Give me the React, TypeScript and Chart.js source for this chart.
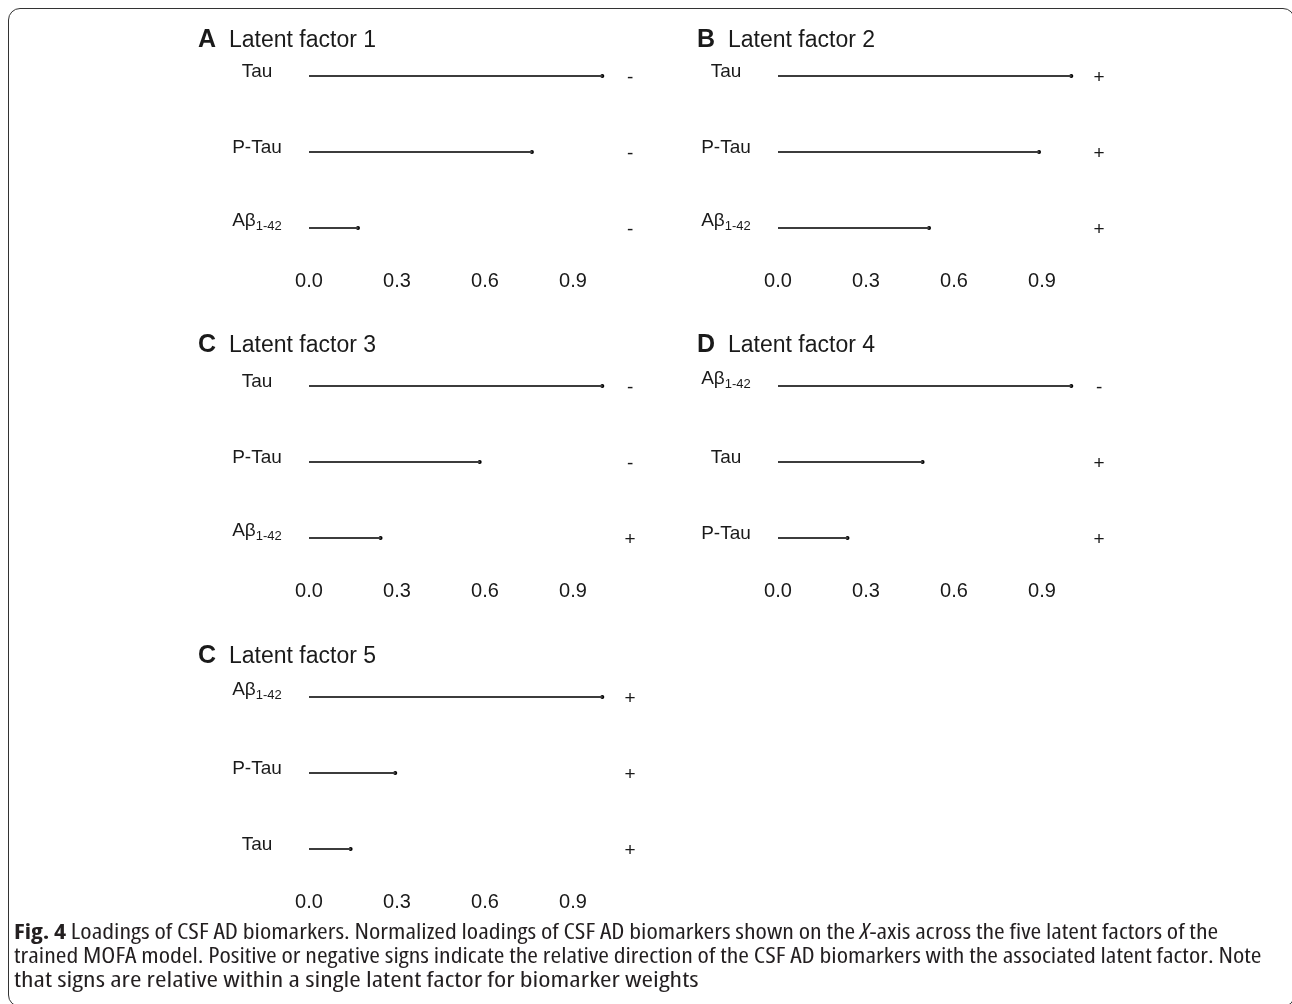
import React, { useEffect, useLayoutEffect, useRef, useState } from 'react';
import { Chart, registerables } from 'chart.js';

Chart.register(...registerables);

// ---------------- data ----------------
const TICKS = [0, 0.3, 0.6, 0.9];
const X_MAX = 1.2;
const SIGN_AT = 1.095;

const F1_LABELS = ['Tau', 'P-Tau', 'Aβ1-42'];
const F1_VALUES = [1.0, 0.76, 0.167];
const F1_SIGNS = ['-', '-', '-'];

const F2_LABELS = ['Tau', 'P-Tau', 'Aβ1-42'];
const F2_VALUES = [1.0, 0.89, 0.515];
const F2_SIGNS = ['+', '+', '+'];

const F3_LABELS = ['Tau', 'P-Tau', 'Aβ1-42'];
const F3_VALUES = [1.0, 0.582, 0.244];
const F3_SIGNS = ['-', '-', '+'];

const F4_LABELS = ['Aβ1-42', 'Tau', 'P-Tau'];
const F4_VALUES = [1.0, 0.493, 0.237];
const F4_SIGNS = ['-', '+', '+'];

const F5_LABELS = ['Aβ1-42', 'P-Tau', 'Tau'];
const F5_VALUES = [1.0, 0.294, 0.142];
const F5_SIGNS = ['+', '+', '+'];

const PANEL_LETTERS = ['A', 'B', 'C', 'D', 'C'];
const PANEL_TITLES = ['Latent factor 1', 'Latent factor 2', 'Latent factor 3', 'Latent factor 4', 'Latent factor 5'];

const CAPTION_LINE2 =
  'trained MOFA model. Positive or negative signs indicate the relative direction of the CSF AD biomarkers with the associated latent factor. Note';
const CAPTION_LINE3 = 'that signs are relative within a single latent factor for biomarker weights';

// ---------------- styling ----------------
const FAMILY = '"Liberation Sans", Arial, Helvetica, sans-serif';
const TEXT = '#1a1a1a';
const LABEL_FONT = `19px ${FAMILY}`;
const SUB_FONT = `13px ${FAMILY}`;
const SIGN_FONT = `19px ${FAMILY}`;

const panelTextPlugin = {
  id: 'panelText',
  afterDraw(chart: any, _args: any, opts: any) {
    const { ctx } = chart;
    const xs = chart.scales.x;
    const ys = chart.scales.y;
    const labels: string[] = chart.data.labels;
    const signs: string[] = opts.signs || [];
    ctx.save();
    ctx.fillStyle = TEXT;
    ctx.textBaseline = 'alphabetic';
    labels.forEach((lab, i) => {
      const py = ys.getPixelForValue(i);
      const cx = xs.left - 52;
      const m = /^(.*?)(1-42)$/.exec(lab);
      if (m) {
        ctx.font = LABEL_FONT;
        const w1 = ctx.measureText(m[1]).width;
        ctx.font = SUB_FONT;
        const w2 = ctx.measureText(m[2]).width;
        const sx = cx - (w1 + w2) / 2;
        ctx.textAlign = 'left';
        ctx.font = LABEL_FONT;
        ctx.fillText(m[1], sx, py - 2);
        ctx.font = SUB_FONT;
        ctx.fillText(m[2], sx + w1, py + 2);
      } else {
        ctx.font = LABEL_FONT;
        ctx.textAlign = 'center';
        ctx.fillText(lab, cx, py + 1);
      }
      if (signs[i]) {
        ctx.font = SIGN_FONT;
        ctx.textAlign = 'center';
        ctx.fillText(signs[i], xs.getPixelForValue(SIGN_AT), py + 7);
      }
    });
    ctx.restore();
  },
};

const CANVAS_W = 480;
const CANVAS_H = 274;

function Panel({ labels, values, signs, left, top }: any) {
  const ref = useRef<HTMLCanvasElement>(null);
  useEffect(() => {
    if (!ref.current) return;
    const chart = new Chart(ref.current, {
      type: 'bar',
      data: {
        labels,
        datasets: [
          {
            type: 'bar',
            indexAxis: 'y',
            data: values,
            backgroundColor: '#3c3c3c',
            barThickness: 1.5,
            borderWidth: 0,
          } as any,
          {
            type: 'line',
            indexAxis: 'y',
            data: values,
            showLine: false,
            pointRadius: 2,
            pointBackgroundColor: '#000',
            pointBorderWidth: 0,
            clip: false,
          } as any,
        ],
      },
      options: {
        indexAxis: 'y',
        animation: false,
        responsive: false,
        devicePixelRatio: 1,
        events: [],
        layout: { padding: { left: 109, right: CANVAS_W - 109 - X_MAX * 293.3, top: 12, bottom: 4 } },
        plugins: {
          legend: { display: false },
          tooltip: { enabled: false },
          panelText: { signs },
        } as any,
        scales: {
          x: {
            type: 'linear',
            min: 0,
            max: X_MAX,
            grid: { display: false, drawTicks: false },
            border: { display: false },
            afterBuildTicks: (s: any) => {
              s.ticks = TICKS.map((v) => ({ value: v }));
            },
            afterFit: (s: any) => {
              s.paddingLeft = 0;
              s.paddingRight = 0;
            },
            ticks: {
              padding: 3,
              color: TEXT,
              autoSkip: false,
              maxRotation: 0,
              font: { family: FAMILY, size: 20 },
              callback: (v: any) => Number(v).toFixed(1),
            },
          },
          y: {
            type: 'category',
            display: false,
            offset: true,
            grid: { display: false },
          },
        },
      } as any,
      plugins: [panelTextPlugin],
    });
    return () => chart.destroy();
  }, []);
  return (
    <canvas
      ref={ref}
      width={CANVAS_W}
      height={CANVAS_H}
      style={{ position: 'absolute', left, top, width: CANVAS_W, height: CANVAS_H, display: 'block' }}
    />
  );
}

function PanelTitle({ letter, title, left, top }: any) {
  return (
    <div
      style={{
        position: 'absolute',
        left,
        top,
        fontFamily: FAMILY,
        fontSize: 23,
        lineHeight: '23px',
        whiteSpace: 'nowrap',
        color: TEXT,
      }}
    >
      <span style={{ display: 'inline-block', width: 31, fontWeight: 700, fontSize: 25 }}>{letter}</span>
      <span>{title}</span>
    </div>
  );
}

function FitLine({ width, top, children }: any) {
  const ref = useRef<HTMLSpanElement>(null);
  const [scale, setScale] = useState(1);
  useLayoutEffect(() => {
    if (ref.current) {
      const w = ref.current.offsetWidth;
      if (w > 0) setScale(width / w);
    }
  }, [width]);
  return (
    <div
      style={{
        position: 'absolute',
        left: 14,
        top,
        whiteSpace: 'nowrap',
        transformOrigin: '0 0',
        transform: `scaleX(${scale})`,
        fontFamily: '"Open Sans", "Noto Sans", sans-serif',
        fontStretch: 'condensed',
        fontSize: 21,
        lineHeight: '24px',
        color: '#231f20',
      }}
    >
      <span ref={ref}>{children}</span>
    </div>
  );
}

export default function App() {
  const rows = [26, 336, 647];
  const cols = [200, 669];
  const panels = [
    { labels: F1_LABELS, values: F1_VALUES, signs: F1_SIGNS, left: cols[0], top: rows[0] },
    { labels: F2_LABELS, values: F2_VALUES, signs: F2_SIGNS, left: cols[1], top: rows[0] },
    { labels: F3_LABELS, values: F3_VALUES, signs: F3_SIGNS, left: cols[0], top: rows[1] },
    { labels: F4_LABELS, values: F4_VALUES, signs: F4_SIGNS, left: cols[1], top: rows[1] },
    { labels: F5_LABELS, values: F5_VALUES, signs: F5_SIGNS, left: cols[0], top: rows[2] },
  ];
  const titleTops = [27, 27, 332, 332, 643];
  const titleLefts = [198, 697, 198, 697, 198];
  return (
    <div
      style={{
        position: 'fixed',
        left: 0,
        top: 0,
        width: 1292,
        height: 1004,
        overflow: 'hidden',
        background: '#fff',
      }}
    >
      <div
        style={{
          position: 'absolute',
          left: 8,
          top: 8,
          width: 1287,
          height: 999,
          border: '1.5px solid #333',
          borderRadius: 12,
          boxSizing: 'border-box',
        }}
      />
      {panels.map((p, i) => (
        <Panel key={i} {...p} />
      ))}
      {PANEL_TITLES.map((t, i) => (
        <PanelTitle key={i} letter={PANEL_LETTERS[i]} title={t} left={titleLefts[i]} top={titleTops[i]} />
      ))}
      <FitLine width={1204} top={919}>
        <b>Fig. 4</b> Loadings of CSF AD biomarkers. Normalized loadings of CSF AD biomarkers shown on the{' '}
        <i>X</i>-axis across the five latent factors of the
      </FitLine>
      <FitLine width={1248} top={943}>
        {CAPTION_LINE2}
      </FitLine>
      <FitLine width={684} top={967}>
        {CAPTION_LINE3}
      </FitLine>
    </div>
  );
}
